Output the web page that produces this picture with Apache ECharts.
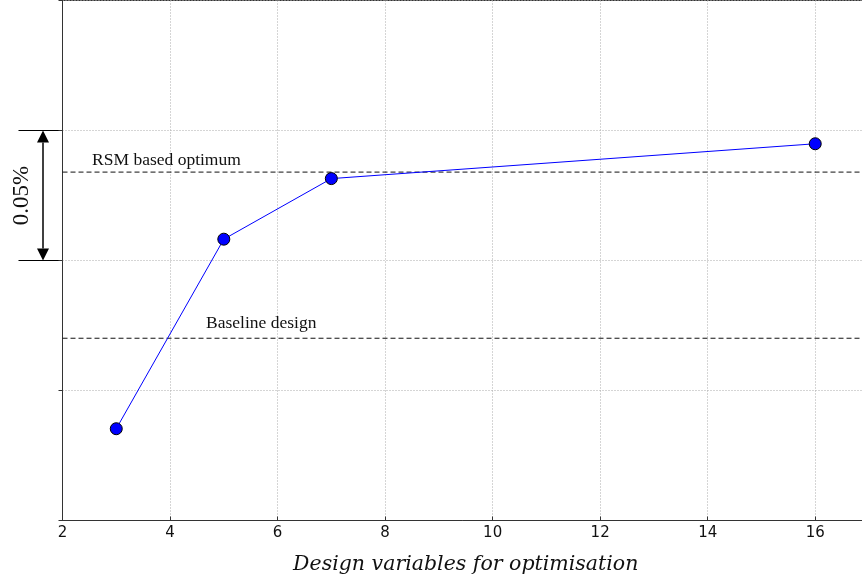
<!DOCTYPE html>
<html><head><meta charset="utf-8">
<script src="https://cdn.jsdelivr.net/npm/echarts@6/dist/echarts.min.js"></script>
<style>html,body{margin:0;padding:0;background:#fff}#c{width:862px;height:581px}</style>
</head><body><div id="c"></div>
<script>
// ---- data ----
const designVars = [3, 5, 7, 16];
const objective = [0.0353, 0.1082, 0.1315, 0.1449];
const xTicks = [2, 4, 6, 8, 10, 12, 14, 16];
const refLineNames = ['RSM based optimum', 'Baseline design'];
const refLineValues = [0.134, 0.0701];
const refLabelX = [2.55, 4.67];
const annotationLabel = '0.05%';
const annotationRange = [0.10, 0.15];
const xRange = [2, 17];
const yRange = [0, 0.2];

const labelLift = [3, 6];

const chart = echarts.init(document.getElementById('c'), null, {renderer: 'canvas'});
const refSeries = refLineValues.map((v, i) => ({
  type: 'line', name: refLineNames[i],
  data: [[xRange[0], v], [xRange[1], v]],
  symbol: 'none', silent: true, z: 3,
  lineStyle: {color: '#111', type: [5, 3], width: 1}
}));
const option = {
  animation: false,
  backgroundColor: '#fff',
  grid: {left: 62.5, top: 0.5, right: -7, bottom: 60.5, show: true, borderColor: '#333', borderWidth: 1,
    outerBoundsMode: 'none', containLabel: false},
  xAxis: {
    type: 'value', min: xRange[0], max: xRange[1], interval: 2,
    axisLine: {show: true, lineStyle: {color: '#333'}},
    axisTick: {show: true, inside: true, length: 4, lineStyle: {color: '#333'}},
    axisLabel: {showMaxLabel: false, color: '#111', fontFamily: 'DejaVu Sans', fontSize: 15, margin: 5,
      formatter: v => xTicks.indexOf(v) >= 0 ? String(v) : ''},
    splitLine: {show: true, lineStyle: {color: '#aaa', type: [1, 2]}},
    name: 'Design variables for optimisation', nameLocation: 'middle', nameGap: 34,
    nameTextStyle: {fontFamily: 'DejaVu Serif', fontStyle: 'italic', fontSize: 20.5, color: '#111'}
  },
  yAxis: {
    type: 'value', min: yRange[0], max: yRange[1], interval: 0.05,
    axisLine: {show: true, lineStyle: {color: '#333'}},
    axisTick: {show: true, length: 4, lineStyle: {color: '#333'}},
    axisLabel: {show: false},
    splitLine: {show: true, lineStyle: {color: '#aaa', type: [1, 2]}}
  },
  series: refSeries.concat([{
    type: 'line',
    data: designVars.map((x, i) => [x, objective[i]]),
    lineStyle: {color: '#0000ff', width: 1},
    symbol: 'circle', symbolSize: 12,
    itemStyle: {color: '#0000ff', borderColor: '#000', borderWidth: 1},
    z: 5
  }])
};
chart.setOption(option);

const pTop = chart.convertToPixel({gridIndex: 0}, [xRange[0], annotationRange[1]]);
const pBot = chart.convertToPixel({gridIndex: 0}, [xRange[0], annotationRange[0]]);
const ax = pTop[0] - 19.5, x0 = pTop[0] - 44, x1 = pTop[0] - 2;
const ah = 12, aw = 6;
const g = [
  {type: 'line', shape: {x1: x0, y1: pTop[1], x2: x1, y2: pTop[1]}, style: {stroke: '#000', lineWidth: 1.2}},
  {type: 'line', shape: {x1: x0, y1: pBot[1], x2: x1, y2: pBot[1]}, style: {stroke: '#000', lineWidth: 1.2}},
  {type: 'line', shape: {x1: ax, y1: pTop[1] + ah, x2: ax, y2: pBot[1] - ah}, style: {stroke: '#000', lineWidth: 1.5}},
  {type: 'polygon', shape: {points: [[ax, pTop[1]], [ax - aw, pTop[1] + ah], [ax + aw, pTop[1] + ah]]}, style: {fill: '#000'}},
  {type: 'polygon', shape: {points: [[ax, pBot[1]], [ax - aw, pBot[1] - ah], [ax + aw, pBot[1] - ah]]}, style: {fill: '#000'}},
  {type: 'text', x: pTop[0] - 41, y: (pTop[1] + pBot[1]) / 2, rotation: Math.PI / 2,
    style: {text: annotationLabel, font: '23px "Liberation Serif"', fill: '#111', align: 'center', verticalAlign: 'middle'}}
];
refLineValues.forEach((v, i) => {
  const p = chart.convertToPixel({gridIndex: 0}, [refLabelX[i], v]);
  g.push({type: 'text', x: p[0], y: p[1] - labelLift[i], z: 10,
    style: {text: refLineNames[i], font: '17.5px "Liberation Serif"', fill: '#111', align: 'left', verticalAlign: 'bottom'}});
});
chart.setOption({graphic: g});
</script></body></html>
